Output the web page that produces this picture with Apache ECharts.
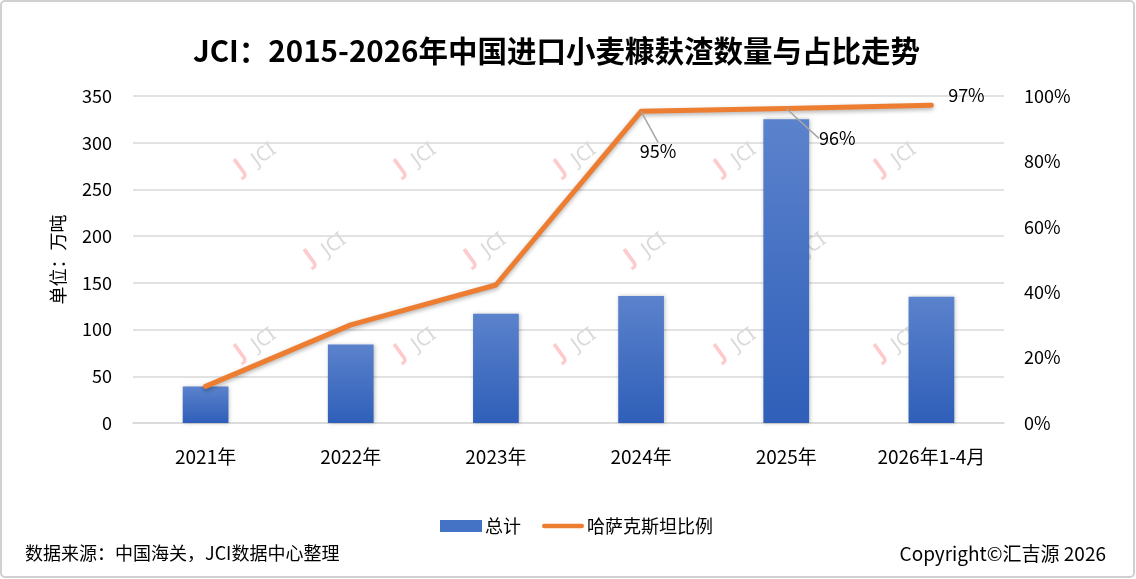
<!DOCTYPE html>
<html>
<head>
<meta charset="utf-8">
<script src="https://cdn.jsdelivr.net/npm/echarts@6/dist/echarts.min.js"></script>
<style>
html,body{margin:0;padding:0;background:#fff;}
#main{width:1136px;height:579px;}
</style>
</head>
<body>
<div id="main"></div>
<script>
var categories = ['2021年', '2022年', '2023年', '2024年', '2025年', '2026年1-4月'];
var totalValues = [39, 84, 117, 136, 325, 135];
var ratioValues = [11.2, 30.0, 42.2, 95.3, 96.2, 97.2];
var leftTicks = [0, 350, 50];
var rightTicks = [0, 100, 20];

var myChart = echarts.init(document.getElementById('main'));

// watermark "JCI" marks
var marks = [];
var spots = [[230,160],[390,160],[550,160],[710,160],[870,160],
             [300,250],[460,250],[620,250],[780,250],
             [230,345],[390,345],[550,345],[710,345],[870,345]];
for (var i = 0; i < spots.length; i++) {
  marks.push({
    type: 'text', x: spots[i][0], y: spots[i][1], rotation: Math.PI / 5, silent: true, z: 0,
    style: { text: 'J', fill: 'rgba(250,140,140,0.45)', font: 'bold 24px "Noto Sans"' }
  });
  marks.push({
    type: 'text', x: spots[i][0] + 18, y: spots[i][1] - 6, rotation: Math.PI / 5, silent: true, z: 0,
    style: { text: 'JCI', fill: 'rgba(170,170,170,0.45)', font: '20px "Noto Sans"' }
  });
}

// label offsets for the last three points
var labelShift = { 3: [17, 54], 4: [51, 44], 5: [35, 4] };

var lineData = ratioValues.map(function (v, i) {
  if (i < 3) return { value: v, label: { show: false }, labelLine: { show: false } };
  if (i === 5) return { value: v, labelLine: { show: false } };
  return { value: v };
});

var option = {
  backgroundColor: '#fff',
  animation: false,
  textStyle: { fontFamily: '"Noto Sans CJK SC", "Noto Sans", sans-serif' },
  title: {
    text: 'JCI：2015-2026年中国进口小麦糠麸渣数量与占比走势',
    left: 188,
    top: 31,
    textStyle: { fontSize: 29.5, fontWeight: 'bold', color: '#000' }
  },
  graphic: [
    { type: 'rect', shape: { x: 1, y: 1, width: 1133, height: 576, r: 4 },
      style: { fill: 'none', stroke: '#d0d0d0', lineWidth: 2 }, silent: true }
  ].concat(marks).concat([
    { type: 'text', left: 25, top: 544, style: { text: '数据来源：中国海关，JCI数据中心整理', fill: '#000', font: '18px "Noto Sans CJK SC"' } },
    { type: 'text', right: 30, top: 544, style: { text: 'Copyright©汇吉源 2026', fill: '#000', font: '19px "Noto Sans CJK SC"' } }
  ]),
  legend: {
    top: 512,
    left: 435,
    itemGap: 21,
    textStyle: { fontSize: 18, color: '#000', padding: [0, 0, 0, -2] },
    data: [
      { name: '总计', icon: 'rect', itemStyle: { color: '#4472c4' } },
      { name: '哈萨克斯坦比例', icon: 'path://M0,0 M0,12 M2.5,3.5 L43.5,3.5 A2.5,2.5 0 0 1 43.5,8.5 L2.5,8.5 A2.5,2.5 0 0 1 2.5,3.5 Z',
        itemStyle: { color: '#ed7d31' } }
    ],
    itemWidth: 42,
    itemHeight: 12
  },
  grid: { left: 133, right: 132, top: 96, bottom: 156 },
  xAxis: {
    type: 'category',
    data: categories,
    axisLine: { lineStyle: { color: '#d9d9d9', width: 1.5 } },
    axisTick: { show: false },
    axisLabel: { color: '#000', fontSize: 19, margin: 24 }
  },
  yAxis: [
    {
      type: 'value', min: leftTicks[0], max: leftTicks[1], interval: leftTicks[2],
      name: '单位：万吨', nameLocation: 'middle', nameGap: 66, nameRotate: 90,
      nameTextStyle: { fontSize: 18, color: '#000' },
      axisLine: { show: false }, axisTick: { show: false },
      axisLabel: { color: '#000', fontSize: 18, margin: 21 },
      splitLine: { lineStyle: { color: '#d9d9d9', width: 1.5 } }
    },
    {
      type: 'value', min: rightTicks[0], max: rightTicks[1], interval: rightTicks[2],
      axisLine: { show: false }, axisTick: { show: false },
      axisLabel: { color: '#000', fontSize: 18, margin: 20, formatter: '{value}%' },
      splitLine: { show: false }
    }
  ],
  series: [
    {
      name: '总计',
      type: 'bar',
      data: totalValues,
      barWidth: '31.5%',
      z: 2,
      itemStyle: {
        color: new echarts.graphic.LinearGradient(0, 0, 0, 1, [
          { offset: 0, color: '#5b82cc' },
          { offset: 1, color: '#2f5fb9' }
        ]),
        shadowColor: 'rgba(0,0,0,0.25)', shadowBlur: 4, shadowOffsetX: 1
      }
    },
    {
      name: '哈萨克斯坦比例',
      type: 'line',
      yAxisIndex: 1,
      data: lineData,
      symbol: 'circle',
      symbolSize: 0.1,
      showSymbol: true,
      z: 3,
      lineStyle: { color: '#ed7d31', width: 5, cap: 'round', join: 'round',
        shadowColor: 'rgba(0,0,0,0.3)', shadowBlur: 4, shadowOffsetY: 2 },
      itemStyle: { color: '#ed7d31' },
      label: {
        show: true, position: 'top', color: '#000', fontSize: 18,
        formatter: function (p) { return Math.round(p.value) + '%'; }
      },
      labelLayout: function (p) {
        var s = labelShift[p.dataIndex];
        return s ? { dx: s[0], dy: s[1] } : {};
      },
      labelLine: { show: true, lineStyle: { color: '#a6a6a6', width: 1.5 } }
    }
  ]
};

myChart.setOption(option);
</script>
</body>
</html>
